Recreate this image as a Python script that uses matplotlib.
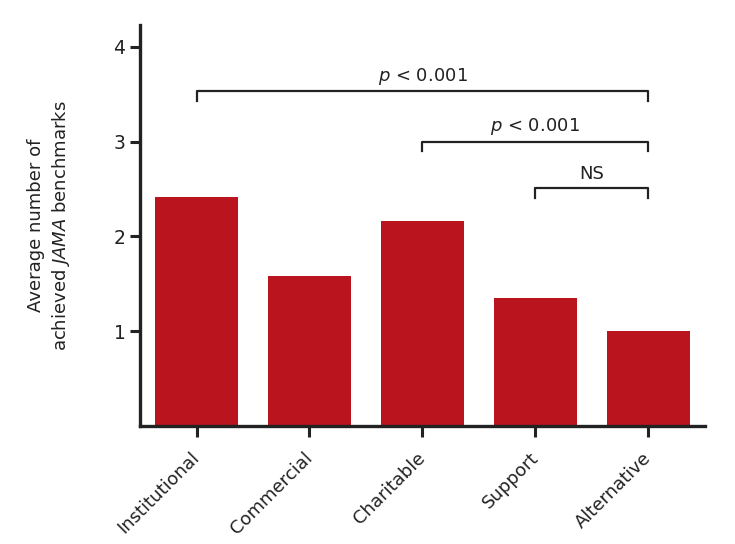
import matplotlib
matplotlib.use("Agg")
import matplotlib.pyplot as plt
import numpy as np

categories = ["Institutional", "Commercial", "Charitable", "Support", "Alternative"]
values = [2.42, 1.58, 2.16, 1.35, 1.00]
yticks = [1, 2, 3, 4]

# comparisons: (left index, right index, bracket height, label)
comparisons = [
    (0, 4, 3.53, "$\\it{p}$ < 0.001"),
    (2, 4, 3.00, "$\\it{p}$ < 0.001"),
    (3, 4, 2.51, "NS"),
]

plt.rcParams["font.family"] = ["DejaVu Sans"]
plt.rcParams["mathtext.fontset"] = "dejavusans"

fig = plt.figure(figsize=(7.35, 5.44), dpi=100)
ax = fig.add_axes([0.1905, 0.217, 0.7685, 0.737])

x = np.arange(len(categories))
ax.bar(x, values, width=0.73, color="#BA141E")

ax.set_xlim(-0.5, 4.5)
ax.set_ylim(0, 4.23)
ax.set_yticks(yticks)
ax.set_xticks(x)
ax.set_xticklabels(categories, rotation=45, ha="right", va="center", rotation_mode="anchor",
                   fontsize=13, color="#222222")
ax.tick_params(axis="y", labelsize=13.5, length=7, width=2.2, colors="#222222")
ax.tick_params(axis="x", length=8, width=2.2, colors="#222222", pad=13)

for side in ["top", "right"]:
    ax.spines[side].set_visible(False)
for side in ["left", "bottom"]:
    ax.spines[side].set_linewidth(2.4)
    ax.spines[side].set_color("#222222")

ax.set_ylabel("Average number of\nachieved $\\it{JAMA}$ benchmarks", fontsize=13, color="#222222",
              labelpad=30, linespacing=1.3)

for i, j, h, label in comparisons:
    ax.plot([x[i], x[i], x[j], x[j]], [h - 0.1, h, h, h - 0.1], color="#222222", lw=1.6, clip_on=False)
    ax.text((x[i] + x[j]) / 2, h + 0.05, label, ha="center", va="bottom", fontsize=13, color="#222222")

fig.savefig("out.png", dpi=100)
